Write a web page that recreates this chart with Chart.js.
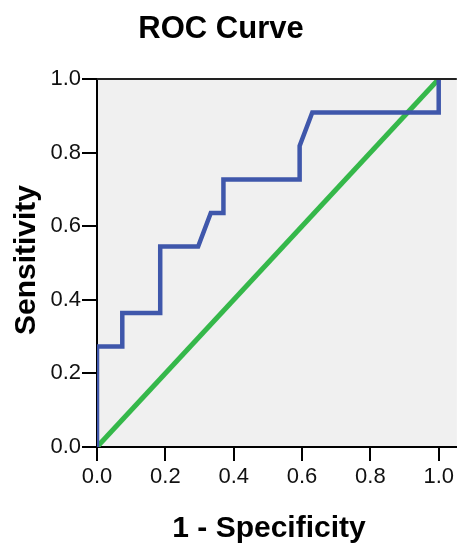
<!DOCTYPE html>
<html>
<head>
<meta charset="utf-8">
<script src="https://cdn.jsdelivr.net/npm/chart.js@4/dist/chart.umd.min.js"></script>
<style>
html,body{margin:0;padding:0;background:#fff;}
#wrap{width:457px;height:548px;position:relative;}
</style>
</head>
<body>
<div id="wrap"><canvas id="c" width="457" height="548"></canvas></div>
<script>
const chartTitle = "ROC Curve";
const xTitle = "1 - Specificity";
const yTitle = "Sensitivity";
const tickValues = [0, 0.2, 0.4, 0.6, 0.8, 1.0];
// ROC curve (1 - specificity, sensitivity)
const rocFpr = [0, 0, 0.074, 0.074, 0.185, 0.185, 0.296, 0.333, 0.370, 0.370, 0.593, 0.593, 0.630, 1.0, 1.0];
const rocTpr = [0, 0.273, 0.273, 0.364, 0.364, 0.545, 0.545, 0.636, 0.636, 0.727, 0.727, 0.818, 0.909, 0.909, 1.0];
// reference line
const refX = [0, 1];
const refY = [0, 1];

const FONT = "'Liberation Sans', Arial, sans-serif";

const bgPlugin = {
  id: 'bg',
  beforeDraw(chart) {
    const {ctx, chartArea: a} = chart;
    ctx.save();
    ctx.fillStyle = '#f0f0f0';
    ctx.fillRect(a.left, a.top, a.right - a.left, a.bottom - a.top);
    ctx.restore();
  },
  afterDraw(chart) {
    const {ctx, chartArea: a} = chart;
    ctx.save();
    ctx.strokeStyle = '#222';
    ctx.lineWidth = 2;
    ctx.beginPath();
    ctx.moveTo(a.left, a.top);
    ctx.lineTo(a.right, a.top);
    ctx.stroke();
    ctx.fillStyle = '#000';
    ctx.textAlign = 'center';
    ctx.textBaseline = 'middle';
    ctx.font = "bold 31px " + FONT;
    ctx.fillText(chartTitle, 221, 29);
    ctx.font = "bold 30px " + FONT;
    ctx.fillText(xTitle, 269, 529);
    ctx.translate(27, 260);
    ctx.rotate(-Math.PI / 2);
    ctx.fillText(yTitle, 0, 0);
    ctx.restore();
  }
};

const toPts = (xs, ys) => xs.map((x, i) => ({x, y: ys[i]}));

new Chart(document.getElementById('c'), {
  type: 'scatter',
  data: {
    datasets: [
      {
        data: toPts(refX, refY),
        showLine: true,
        borderColor: '#35b84a',
        borderWidth: 5,
        pointRadius: 0,
        order: 2
      },
      {
        data: toPts(rocFpr, rocTpr),
        showLine: true,
        borderColor: '#3f57ab',
        borderWidth: 4.5,
        pointRadius: 0,
        order: 1
      }
    ]
  },
  options: {
    responsive: false,
    animation: false,
    events: [],
    layout: {padding: {top: 79, right: 0, left: 0, bottom: 0}},
    plugins: {legend: {display: false}, tooltip: {enabled: false}},
    scales: {
      x: {
        type: 'linear',
        min: 0,
        max: 1.053,
        afterBuildTicks: s => { s.ticks = tickValues.map(v => ({value: v})); },
        afterFit: s => { s.height = 101; },
        border: {display: true, color: '#000', width: 2},
        grid: {drawOnChartArea: false, drawTicks: true, tickLength: 14, color: '#000', lineWidth: 2},
        ticks: {color: '#111', font: {family: FONT, size: 22}, padding: 3, maxRotation: 0,
          callback: v => Number(v).toFixed(1)}
      },
      y: {
        type: 'linear',
        min: 0,
        max: 1,
        afterBuildTicks: s => { s.ticks = tickValues.map(v => ({value: v})); },
        afterFit: s => { s.width = 97; },
        border: {display: true, color: '#000', width: 2},
        grid: {drawOnChartArea: false, drawTicks: true, tickLength: 15, color: '#000', lineWidth: 2},
        ticks: {color: '#111', font: {family: FONT, size: 22}, padding: 1,
          callback: v => Number(v).toFixed(1)}
      }
    }
  },
  plugins: [bgPlugin]
});
</script>
</body>
</html>
